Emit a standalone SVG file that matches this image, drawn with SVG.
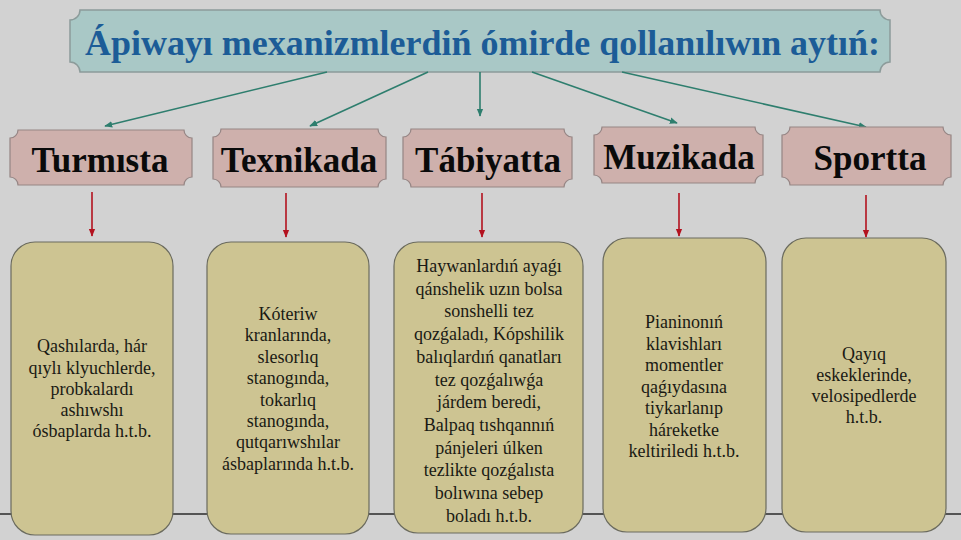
<svg xmlns="http://www.w3.org/2000/svg" width="961" height="540" viewBox="0 0 961 540">
<defs>
<style>
.bg{fill:#d2d2d2}
.title-box{fill:#a9c8c6;stroke:#8c9b9a;stroke-width:1.5}
.title{font-family:"Liberation Serif","Times New Roman",serif;font-weight:bold;font-size:36px;fill:#1c5c97}
.cat{fill:#ceb0ac;stroke:#958584;stroke-width:1.2}
.cat-t{font-family:"Liberation Serif","Times New Roman",serif;font-weight:bold;font-size:35px;fill:#0a0a0a;text-anchor:middle}
.box{fill:#cdc492;stroke:#6b6b5e;stroke-width:1.2}
.body{font-family:"Liberation Serif","Times New Roman",serif;font-size:18px;fill:#1a1a14;text-anchor:middle}
.g{stroke:#2e7e6e;stroke-width:1.6;fill:none}
.r{stroke:#b3121f;stroke-width:1.6;fill:none}
</style>
<marker id="ag" viewBox="0 0 10 10" refX="9" refY="5" markerWidth="8" markerHeight="8" markerUnits="userSpaceOnUse" orient="auto"><path d="M0,1 L10,5 L0,9 Z" fill="#2e7e6e"/></marker>
<marker id="ar" viewBox="0 0 10 10" refX="9" refY="5" markerWidth="8" markerHeight="8" markerUnits="userSpaceOnUse" orient="auto"><path d="M0,1 L10,5 L0,9 Z" fill="#b3121f"/></marker>
</defs>
<rect class="bg" x="0" y="0" width="961" height="540"/>
<line x1="0" y1="514" x2="961" y2="514" stroke="#2a2a2a" stroke-width="1.3"/>

<g id="title">
<path class="title-box" d="M80,10 H880 A10 10 0 0 0 890,20 V62 A10 10 0 0 0 880,72 H80 A10 10 0 0 0 70,62 V20 A10 10 0 0 0 80,10 Z"/>
<text class="title" x="85" y="55" textLength="795" lengthAdjust="spacingAndGlyphs">Ápiwayı mexanizmlerdiń ómirde qollanılıwın aytıń:</text>
</g>

<g id="connectors">
<line class="g" x1="327" y1="72" x2="105" y2="126" marker-end="url(#ag)"/>
<line class="g" x1="428" y1="72" x2="310" y2="126" marker-end="url(#ag)"/>
<line class="g" x1="480" y1="72" x2="480" y2="116" marker-end="url(#ag)"/>
<line class="g" x1="532" y1="72" x2="677" y2="123" marker-end="url(#ag)"/>
<line class="g" x1="622" y1="72" x2="866" y2="127" marker-end="url(#ag)"/>
<line class="r" x1="92" y1="192" x2="92" y2="236" marker-end="url(#ar)"/>
<line class="r" x1="286" y1="193" x2="286" y2="237" marker-end="url(#ar)"/>
<line class="r" x1="482" y1="193" x2="482" y2="237" marker-end="url(#ar)"/>
<line class="r" x1="679" y1="193" x2="679" y2="236" marker-end="url(#ar)"/>
<line class="r" x1="866" y1="195" x2="866" y2="237" marker-end="url(#ar)"/>
</g>

<g id="cat-turmista">
<path class="cat" d="M18,130 H184 A8 8 0 0 0 192,138 V177 A8 8 0 0 0 184,185 H18 A8 8 0 0 0 10,177 V138 A8 8 0 0 0 18,130 Z"/>
<text class="cat-t" x="100" y="172">Turmısta</text>
</g>
<g id="cat-texnikada">
<path class="cat" d="M221,129 H378 A8 8 0 0 0 386,137 V179 A8 8 0 0 0 378,187 H221 A8 8 0 0 0 213,179 V137 A8 8 0 0 0 221,129 Z"/>
<text class="cat-t" x="299" y="172">Texnikada</text>
</g>
<g id="cat-tabiyatta">
<path class="cat" d="M411,129 H564 A8 8 0 0 0 572,137 V179 A8 8 0 0 0 564,187 H411 A8 8 0 0 0 403,179 V137 A8 8 0 0 0 411,129 Z"/>
<text class="cat-t" x="488" y="172">Tábiyatta</text>
</g>
<g id="cat-muzikada">
<path class="cat" d="M602,127 H755 A8 8 0 0 0 763,135 V175 A8 8 0 0 0 755,183 H602 A8 8 0 0 0 594,175 V135 A8 8 0 0 0 602,127 Z"/>
<text class="cat-t" x="679" y="169">Muzikada</text>
</g>
<g id="cat-sportta">
<path class="cat" d="M790,127 H943 A8 8 0 0 0 951,135 V177 A8 8 0 0 0 943,185 H790 A8 8 0 0 0 782,177 V135 A8 8 0 0 0 790,127 Z"/>
<text class="cat-t" x="870" y="170">Sportta</text>
</g>

<g id="box-turmista">
<rect class="box" x="11" y="242" width="162" height="293" rx="24"/>
<text class="body"><tspan x="92" y="352">Qashılarda, hár</tspan><tspan x="92" y="373.5">qıylı klyuchlerde,</tspan><tspan x="92" y="395">probkalardı</tspan><tspan x="92" y="416">ashıwshı</tspan><tspan x="92" y="437">ósbaplarda h.t.b.</tspan></text>
</g>
<g id="box-texnikada">
<rect class="box" x="207" y="242" width="162" height="292" rx="24"/>
<text class="body"><tspan x="288" y="320">Kóteriw</tspan><tspan x="288" y="341.4">kranlarında,</tspan><tspan x="288" y="362.8">slesorlıq</tspan><tspan x="288" y="384.2">stanogında,</tspan><tspan x="288" y="405.6">tokarlıq</tspan><tspan x="288" y="427">stanogında,</tspan><tspan x="288" y="448.4">qutqarıwshılar</tspan><tspan x="288" y="469.8">ásbaplarında h.t.b.</tspan></text>
</g>
<g id="box-tabiyatta">
<rect class="box" x="394" y="242" width="189" height="291" rx="24"/>
<text class="body"><tspan x="489" y="272">Haywanlardıń ayaǵı</tspan><tspan x="489" y="294.7">qánshelik uzın bolsa</tspan><tspan x="489" y="317.4">sonshelli tez</tspan><tspan x="489" y="340.1">qozǵaladı, Kópshilik</tspan><tspan x="489" y="362.8">balıqlardıń qanatları</tspan><tspan x="489" y="385.5">tez qozǵalıwǵa</tspan><tspan x="489" y="408.2">járdem beredi,</tspan><tspan x="489" y="430.9">Balpaq tıshqannıń</tspan><tspan x="489" y="453.6">pánjeleri úlken</tspan><tspan x="489" y="476.3">tezlikte qozǵalısta</tspan><tspan x="489" y="499">bolıwına sebep</tspan><tspan x="489" y="521.7">boladı h.t.b.</tspan></text>
</g>
<g id="box-muzikada">
<rect class="box" x="603" y="238" width="163" height="294" rx="24"/>
<text class="body"><tspan x="684" y="328">Pianinonıń</tspan><tspan x="684" y="349.5">klavishları</tspan><tspan x="684" y="371">momentler</tspan><tspan x="684" y="392.5">qaǵıydasına</tspan><tspan x="684" y="414">tiykarlanıp</tspan><tspan x="684" y="435.5">háreketke</tspan><tspan x="684" y="457">keltiriledi h.t.b.</tspan></text>
</g>
<g id="box-sportta">
<rect class="box" x="782" y="238" width="164" height="294" rx="24"/>
<text class="body"><tspan x="864" y="360">Qayıq</tspan><tspan x="864" y="381">eskeklerinde,</tspan><tspan x="864" y="402">velosipedlerde</tspan><tspan x="864" y="423">h.t.b.</tspan></text>
</g>
</svg>
